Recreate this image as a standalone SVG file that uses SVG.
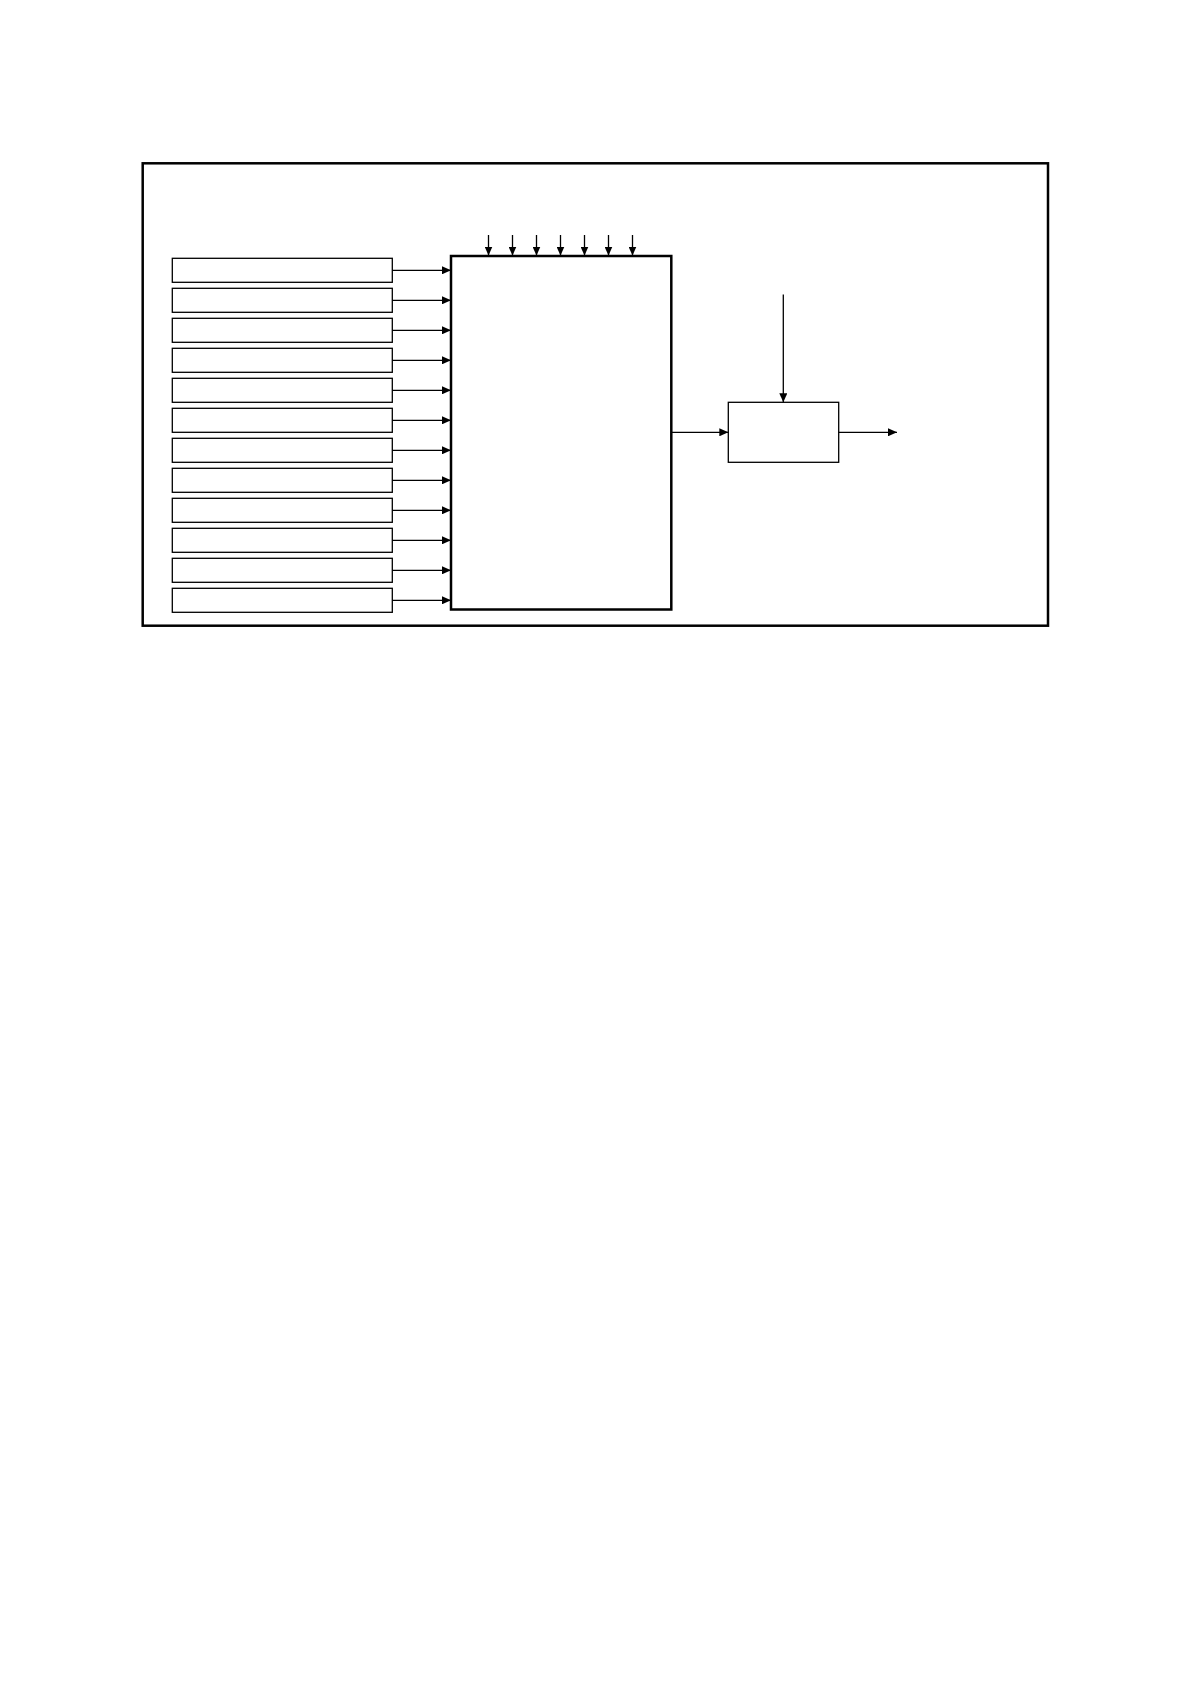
<svg xmlns="http://www.w3.org/2000/svg" width="1190" height="1684" viewBox="0 0 1190 1684">
<style>
.frame{fill:none;stroke:#000;stroke-width:2.5}
.thick{fill:#fff;stroke:#000;stroke-width:2.5}
.box{fill:#fff;stroke:#000;stroke-width:1.3}
.conn{fill:none;stroke:#000;stroke-width:1.3;marker-end:url(#ah)}
</style>
<defs>
<marker id="ah" markerUnits="userSpaceOnUse" markerWidth="10" markerHeight="8" refX="9" refY="4" orient="auto">
<path d="M0,0 L9,4 L0,8 Z" fill="#000"/>
</marker>
</defs>
<rect width="1190" height="1684" fill="#fff"/>
<g id="frame"><rect class="frame" x="142.7" y="163.3" width="905.3" height="462.4"/></g>
<g id="inputs">
<g id="in1"><rect class="box" x="172.3" y="258.3" width="220" height="24"/></g>
<g id="in2"><rect class="box" x="172.3" y="288.3" width="220" height="24"/></g>
<g id="in3"><rect class="box" x="172.3" y="318.3" width="220" height="24"/></g>
<g id="in4"><rect class="box" x="172.3" y="348.3" width="220" height="24"/></g>
<g id="in5"><rect class="box" x="172.3" y="378.3" width="220" height="24"/></g>
<g id="in6"><rect class="box" x="172.3" y="408.3" width="220" height="24"/></g>
<g id="in7"><rect class="box" x="172.3" y="438.3" width="220" height="24"/></g>
<g id="in8"><rect class="box" x="172.3" y="468.3" width="220" height="24"/></g>
<g id="in9"><rect class="box" x="172.3" y="498.3" width="220" height="24"/></g>
<g id="in10"><rect class="box" x="172.3" y="528.3" width="220" height="24"/></g>
<g id="in11"><rect class="box" x="172.3" y="558.3" width="220" height="24"/></g>
<g id="in12"><rect class="box" x="172.3" y="588.3" width="220" height="24"/></g>
</g>
<g id="main"><rect class="thick" x="451" y="256" width="220.3" height="353.5"/></g>
<g id="small"><rect class="box" x="728.3" y="402.3" width="110.4" height="60"/></g>
<g id="connectors">
<line class="conn" x1="392.3" y1="270.3" x2="451" y2="270.3"/>
<line class="conn" x1="392.3" y1="300.3" x2="451" y2="300.3"/>
<line class="conn" x1="392.3" y1="330.3" x2="451" y2="330.3"/>
<line class="conn" x1="392.3" y1="360.3" x2="451" y2="360.3"/>
<line class="conn" x1="392.3" y1="390.3" x2="451" y2="390.3"/>
<line class="conn" x1="392.3" y1="420.3" x2="451" y2="420.3"/>
<line class="conn" x1="392.3" y1="450.3" x2="451" y2="450.3"/>
<line class="conn" x1="392.3" y1="480.3" x2="451" y2="480.3"/>
<line class="conn" x1="392.3" y1="510.3" x2="451" y2="510.3"/>
<line class="conn" x1="392.3" y1="540.3" x2="451" y2="540.3"/>
<line class="conn" x1="392.3" y1="570.3" x2="451" y2="570.3"/>
<line class="conn" x1="392.3" y1="600.3" x2="451" y2="600.3"/>
<line class="conn" x1="488.5" y1="235" x2="488.5" y2="255.5"/>
<line class="conn" x1="512.5" y1="235" x2="512.5" y2="255.5"/>
<line class="conn" x1="536.5" y1="235" x2="536.5" y2="255.5"/>
<line class="conn" x1="560.5" y1="235" x2="560.5" y2="255.5"/>
<line class="conn" x1="584.5" y1="235" x2="584.5" y2="255.5"/>
<line class="conn" x1="608.5" y1="235" x2="608.5" y2="255.5"/>
<line class="conn" x1="632.5" y1="235" x2="632.5" y2="255.5"/>
<line class="conn" x1="671.3" y1="432.3" x2="728.3" y2="432.3"/>
<line class="conn" x1="783.3" y1="294.5" x2="783.3" y2="402.3"/>
<line class="conn" x1="838.7" y1="432.3" x2="897" y2="432.3"/>
</g>
</svg>
